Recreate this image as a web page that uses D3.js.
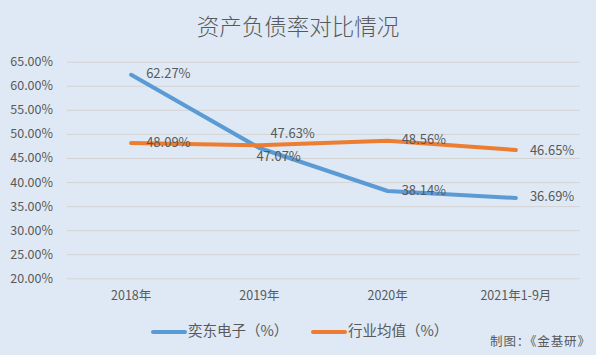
<!DOCTYPE html>
<html><head><meta charset="utf-8">
<script src="https://cdn.jsdelivr.net/npm/d3@7"></script>
<style>
body{margin:0;background:#dee9f5;}
text{font-family:"Noto Sans CJK SC","Noto Sans",sans-serif;fill:#595959;}
</style></head><body>
<svg id="c" width="596" height="355"></svg>
<script>
const categories = ["2018年","2019年","2020年","2021年1-9月"];
const seriesNames = ["奕东电子（%）","行业均值（%）"];
const yidong = [62.27, 47.07, 38.14, 36.69];
const industry = [48.09, 47.63, 48.56, 46.65];
const yTicks = [20,25,30,35,40,45,50,55,60,65];
const colors = ["#5b9bd5","#ed7d31"];
// label offsets [dx, dy] relative to point
const labelOffsets = [
  [[15,0],[-3,9],[14,0],[14,0]],
  [[15,0],[11,-11],[14,0],[14,1]]
];

const svg = d3.select("#c");
svg.append("rect").attr("width",596).attr("height",355).attr("fill","#dee9f5");
const x = d3.scaleBand().domain(categories).range([67,580]);
const y = d3.scaleLinear().domain([20,65]).range([278.3,61.7]);

svg.append("text").attr("x",298).attr("y",29).attr("text-anchor","middle").attr("dominant-baseline","middle")
  .style("font-size","22.5px").style("font-weight","300").text("资产负债率对比情况");

const yAxis = svg.append("g").attr("transform","translate(67,0)")
  .call(d3.axisLeft(y).tickValues(yTicks).tickSize(-513).tickFormat(d=>d.toFixed(2)+"%"));
yAxis.select(".domain").remove();
yAxis.selectAll("line").attr("stroke","#d4d4d4").attr("stroke-width",1);
yAxis.selectAll("text").attr("x",-14).style("font-size","12.5px").attr("fill","#595959");

const xAxis = svg.append("g").attr("transform","translate(0,278.3)")
  .call(d3.axisBottom(x).tickSize(0).tickPadding(13));
xAxis.select(".domain").remove();
xAxis.selectAll("text").style("font-size","12.5px").attr("fill","#595959");

const line = d3.line().x((d,i)=>x(categories[i])+x.bandwidth()/2).y(d=>y(d));
[yidong, industry].forEach((s,k)=>{
  svg.append("path").datum(s).attr("d",line).attr("fill","none")
    .attr("stroke",colors[k]).attr("stroke-width",4).attr("stroke-linecap","round").attr("stroke-linejoin","round");
});
[yidong, industry].forEach((s,k)=>{
  s.forEach((v,i)=>{
    const px = x(categories[i])+x.bandwidth()/2, py=y(v);
    const o = labelOffsets[k][i];
    svg.append("text").attr("x",px+o[0]).attr("y",py+o[1]).attr("dominant-baseline","middle")
      .style("font-size","13px").attr("fill","#404040").text(v.toFixed(2)+"%");
  });
});

const leg = svg.append("g");
const legX = [151,311];
seriesNames.forEach((n,k)=>{
  leg.append("line").attr("x1",legX[k]+2).attr("x2",legX[k]+34).attr("y1",332).attr("y2",332)
    .attr("stroke",colors[k]).attr("stroke-width",4).attr("stroke-linecap","round");
  leg.append("text").attr("x",legX[k]+37).attr("y",332).attr("dominant-baseline","middle")
    .style("font-size","14.5px").text(n);
});
svg.append("text").attr("x",490).attr("y",343).attr("dominant-baseline","middle")
  .attr("textLength",100).attr("lengthAdjust","spacing")
  .style("font-size","12.5px").attr("fill","#333").text("制图：《金基研》");
</script></body></html>
